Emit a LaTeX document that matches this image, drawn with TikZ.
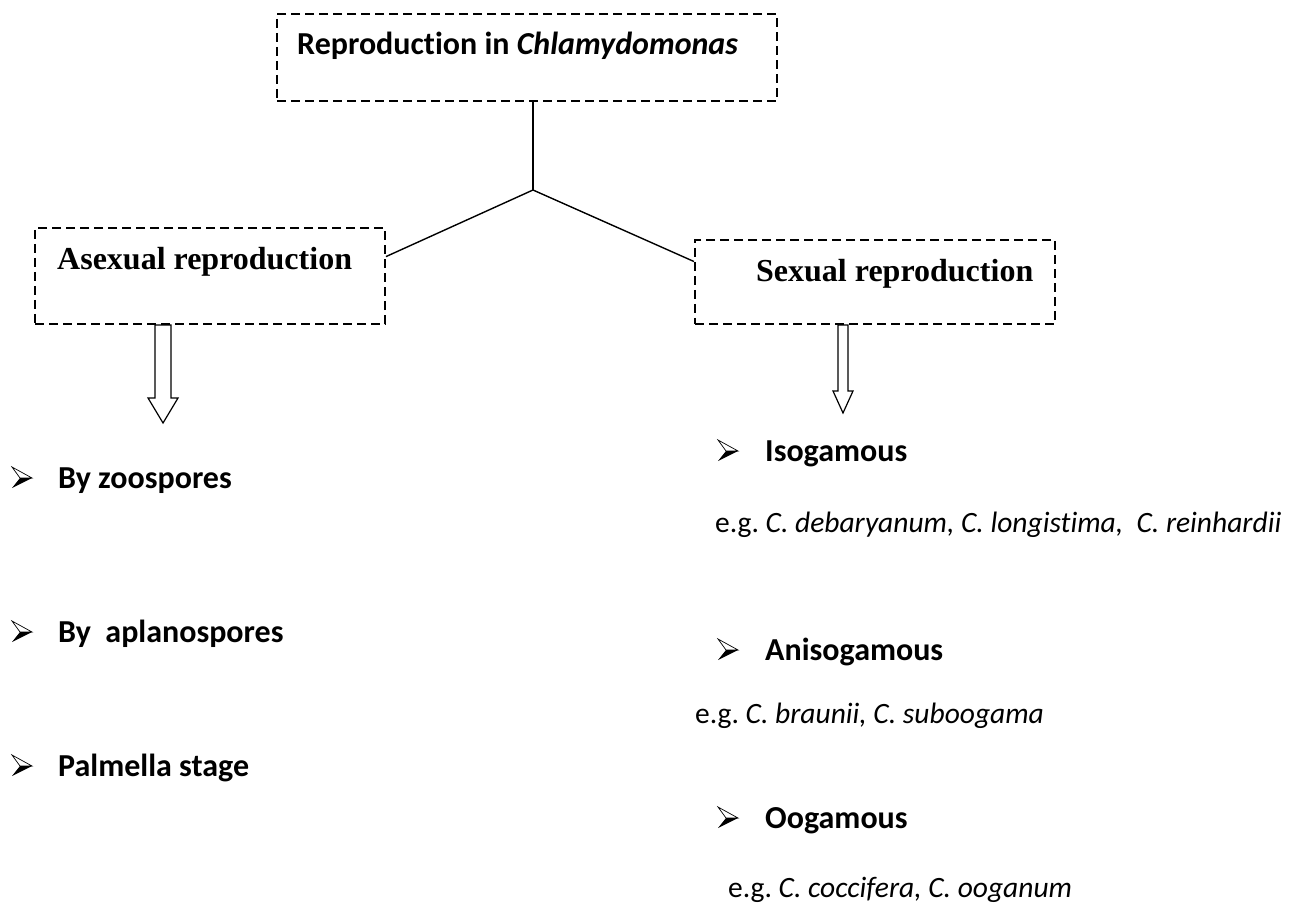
\documentclass[tikz,border=0pt]{standalone}
\usepackage{fontspec}
\setmainfont{Carlito}[Ligatures=NoCommon]
\newfontfamily\tnr{Liberation Serif}
\usetikzlibrary{calc}
\frenchspacing
\tikzset{
  dbox/.style={draw, rectangle, inner sep=0pt, line width=2pt, dash pattern=on 9pt off 5pt},
  conn/.style={line width=1.4pt},
  hollow/.style={line width=1.2pt, line join=miter},
  lbl/.style={anchor=base west, inner sep=0pt, font=\fontsize{32}{38}\selectfont\bfseries},
  eg/.style={anchor=base west, inner sep=0pt, font=\fontsize{29.5}{35}\selectfont},
  boxlbl/.style={anchor=base west, inner sep=0pt, font=\tnr\fontsize{32}{38}\selectfont\bfseries},
  bul/.pic={
    \draw[line width=0.7pt, line join=miter] (0,-21) -- (20,-10) -- (8,-10) -- cycle;
    \fill (8,-10) -- (20,-10) -- (0,0) -- cycle;
  }
}
\begin{document}
\begin{tikzpicture}[x=1pt,y=-1pt]
\useasboundingbox (0,0) rectangle (1294,904);
\fill[white] (0,0) rectangle (1294,904);

% boxes
\node[dbox, minimum width=500pt, minimum height=87pt] (title) at (527,57.5) {};
\node[dbox, minimum width=350pt, minimum height=96pt] (asex) at (210,276) {};
\node[dbox, minimum width=360pt, minimum height=84pt] (sex) at (875,282) {};

\node[lbl] (ttxt) at (297,55) {Reproduction in \textit{Chlamydomonas}};
\node[boxlbl] (atxt) at (57,270) {Asexual reproduction};
\node[boxlbl] (stxt) at (756,282) {Sexual reproduction};

% connectors
\coordinate (fork) at (533,190);
\draw[conn] (title.south -| fork) -- (fork);
\draw[conn] (fork) -- ($(asex.north east)!0.302!(asex.south east)$);
\draw[conn] (fork) -- ($(sex.north west)!0.262!(sex.south west)$);

% hollow arrows
\coordinate (la) at (asex.south -| 163,0);
\draw[hollow] ($(la)+(-8,0)$) -- ($(la)+(-8,73)$) -- ($(la)+(-15,73)$) -- ($(la)+(0,98)$)
  -- ($(la)+(15,73)$) -- ($(la)+(8,73)$) -- ($(la)+(8,0)$) -- cycle;
\coordinate (ra) at (sex.south -| 843,0);
\draw[hollow] ($(ra)+(-5,0)$) -- ($(ra)+(-5,66)$) -- ($(ra)+(-10,66)$) -- ($(ra)+(0,88)$)
  -- ($(ra)+(10,66)$) -- ($(ra)+(5,66)$) -- ($(ra)+(5,0)$) -- cycle;

% left list
\pic at (12,488) {bul};
\node[lbl] (l1) at (58,488) {By zoospores};
\pic at (12,642) {bul};
\node[lbl] (l2) at (58,642) {By\ \ aplanospores};
\pic at (12,776) {bul};
\node[lbl] (l3) at (58,776) {Palmella stage};

% right list
\pic at (718,461) {bul};
\node[lbl] (r1) at (765,461) {Isogamous};
\node[eg] (e1) at (715,532) {e.g. \textit{C. debaryanum, C. longistima,\ \ C. reinhardii}};
\pic at (718,660) {bul};
\node[lbl] (r2) at (765,660) {Anisogamous};
\node[eg] (e2) at (695,723) {e.g. \textit{C. braunii, C. suboogama}};
\pic at (718,828) {bul};
\node[lbl] (r3) at (765,828) {Oogamous};
\node[eg] (e3) at (728,897) {e.g. \textit{C. coccifera, C. ooganum}};
\end{tikzpicture}
\end{document}
